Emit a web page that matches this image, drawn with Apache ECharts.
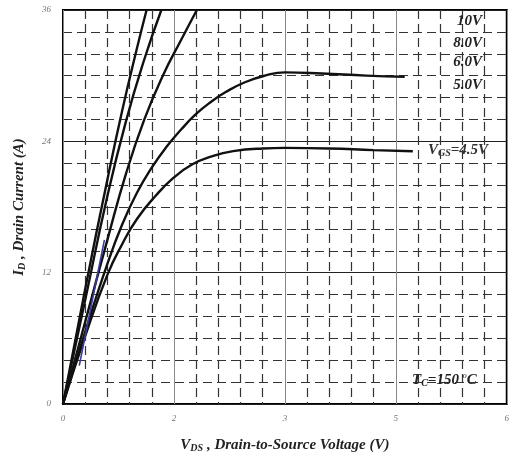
<!DOCTYPE html>
<html>
<head>
<meta charset="utf-8">
<script src="https://cdn.jsdelivr.net/npm/echarts@6/dist/echarts.min.js"></script>
<style>
  html, body { margin: 0; padding: 0; background: #fff; }
  #chart { width: 512px; height: 458px; }
</style>
</head>
<body>
<div id="chart"></div>
<script>
// tick labels as printed on the sheet (1.5 and 4.5 show rounded)
var xTicks = { 0: '0', 1.5: '2', 3: '3', 4.5: '5', 6: '6' };
var yTicks = [0, 12, 24, 36];

// curves: [Vds, Id]
var vgs10 = [[0,0],[0.3,10.5],[0.6,20.5],[0.8,26.8],[1.0,32.5],[1.13,36]];
var vgs8 = [[0,0],[0.3,9.5],[0.6,19],[0.85,25.8],[1.1,31.5],[1.33,36]];
var vgs6 = [[0,0],[0.3,7.5],[0.6,15],[0.85,21],[1.1,26],[1.35,30],[1.6,33.3],[1.81,36]];
var vgs5 = [[0,0],[0.3,6.6],[0.6,12.8],[0.8,16.4],[1.0,19.3],[1.2,21.6],[1.4,23.5],[1.6,25.1],[1.8,26.5],[2.0,27.6],[2.2,28.5],[2.46,29.4],[2.73,30.0],[3.0,30.3],[3.5,30.2],[4.1,30.0],[4.62,29.9]];
var vgs45 = [[0,0],[0.3,6.2],[0.6,11.8],[0.8,14.6],[1.0,16.9],[1.25,19.0],[1.5,20.7],[1.75,21.9],[2.0,22.6],[2.3,23.1],[2.7,23.35],[3.0,23.4],[3.6,23.35],[4.2,23.2],[4.73,23.1]];
// short blue stroke visible on the scan near the origin
var blueStroke = [[0.22,3.5],[0.56,15]];

var serif = 'Liberation Serif';
var chart = echarts.init(document.getElementById('chart'));

function curve(name, data, color, width) {
  return {
    name: name,
    type: 'line',
    data: data,
    smooth: true,
    showSymbol: false,
    lineStyle: { color: color || '#111', width: width || 2.4 },
    z: 5
  };
}

var labelStyle = { fontFamily: serif, fontStyle: 'italic', fontWeight: 'bold', fontSize: 15, fill: '#222' };
var nameRich = {
  a: { fontFamily: serif, fontStyle: 'italic', fontWeight: 'bold', fontSize: 15, color: '#222' },
  s: { fontFamily: serif, fontStyle: 'italic', fontWeight: 'bold', fontSize: 10, color: '#222', verticalAlign: 'bottom', padding: [6, 0, 0, 0] }
};

var option = {
  animation: false,
  grid: { left: 63, right: 1, top: 10, bottom: 53, show: true, borderColor: '#000', borderWidth: 2, backgroundColor: '#fff' },
  xAxis: {
    type: 'value', min: 0, max: 6, interval: 1.5,
    name: '{a|V}{s|DS}{a| , Drain-to-Source Voltage (V)}',
    nameLocation: 'middle', nameGap: 33,
    nameTextStyle: { rich: nameRich },
    axisLine: { show: false },
    axisTick: { show: false },
    axisLabel: {
      margin: 10, fontFamily: serif, fontStyle: 'italic', fontSize: 9, color: '#777',
      formatter: function (v) { return xTicks[v] !== undefined ? xTicks[v] : ''; }
    },
    splitLine: { show: true, lineStyle: { color: '#888', width: 1 } },
    minorTick: { show: false, splitNumber: 5 },
    minorSplitLine: { show: true, lineStyle: { color: '#333', width: 1.2, type: [9, 5] } }
  },
  yAxis: {
    type: 'value', min: 0, max: 36, interval: 12,
    name: '{a|I}{s|D}{a| , Drain Current (A)}',
    nameLocation: 'middle', nameGap: 36,
    nameTextStyle: { rich: nameRich },
    axisLine: { show: false },
    axisTick: { show: false },
    axisLabel: {
      margin: 12, fontFamily: serif, fontStyle: 'italic', fontSize: 9, color: '#777',
      formatter: function (v) { return yTicks.indexOf(v) >= 0 ? String(v) : ''; }
    },
    splitLine: { show: true, lineStyle: { color: '#222', width: 1 } },
    minorTick: { show: false, splitNumber: 6 },
    minorSplitLine: { show: true, lineStyle: { color: '#333', width: 1.2, type: [9, 5] } }
  },
  series: [
    curve('10V', vgs10),
    curve('8.0V', vgs8),
    curve('6.0V', vgs6),
    curve('5.0V', vgs5),
    curve('4.5V', vgs45),
    curve('scan', blueStroke, '#3b3b9e', 1.6)
  ],
  graphic: [
    { type: 'text', right: 30, top: 14, style: Object.assign({ text: '10V' }, labelStyle), z: 10 },
    { type: 'text', right: 30, top: 36, style: Object.assign({ text: '8.0V' }, labelStyle), z: 10 },
    { type: 'text', right: 30, top: 55, style: Object.assign({ text: '6.0V' }, labelStyle), z: 10 },
    { type: 'text', right: 30, top: 78, style: Object.assign({ text: '5.0V' }, labelStyle), z: 10 },
    { type: 'text', left: 428, top: 143, z: 10, style: {
      text: '{a|V}{s|GS}{a|=4.5V}',
      rich: {
        a: { fontFamily: serif, fontStyle: 'italic', fontWeight: 'bold', fontSize: 15, fill: '#333' },
        s: { fontFamily: serif, fontStyle: 'italic', fontWeight: 'bold', fontSize: 10, fill: '#333', verticalAlign: 'bottom', padding: [6, 0, 0, 0] }
      }
    } },
    { type: 'text', left: 412, top: 372, z: 10, style: {
      text: '{a|T}{s|C}{a|=150 }{o|o}{a|C}',
      rich: {
        a: { fontFamily: serif, fontStyle: 'italic', fontWeight: 'bold', fontSize: 15, fill: '#222' },
        s: { fontFamily: serif, fontStyle: 'italic', fontWeight: 'bold', fontSize: 10, fill: '#222', verticalAlign: 'bottom', padding: [6, 0, 0, 0] },
        o: { fontFamily: serif, fontStyle: 'italic', fontSize: 8, fill: '#222', verticalAlign: 'top', padding: [0, 0, 6, 0] }
      }
    } }
  ]
};

chart.setOption(option);
</script>
</body>
</html>
